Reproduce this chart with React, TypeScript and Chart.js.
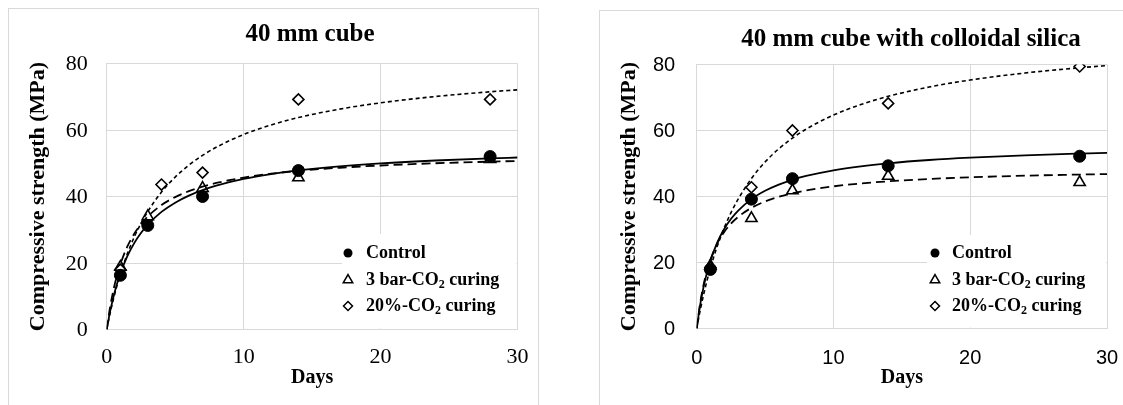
import React, { useEffect, useRef } from 'react';
import { Chart, registerables } from 'chart.js';

Chart.register(...registerables);

// ---------- data ----------
const X_TICKS = [0, 10, 20, 30];
const Y_TICKS = [0, 20, 40, 60, 80];
const LEGEND_LABELS = [
  { pre: 'Control', sub: '', post: '' },
  { pre: '3 bar-CO', sub: '2', post: ' curing' },
  { pre: '20%-CO', sub: '2', post: ' curing' },
];

// Panel A: 40 mm cube (measured points)
const A_CONTROL_DAYS = [1, 3, 7, 14, 28];
const A_CONTROL = [16.3, 31.3, 40.0, 47.8, 52.0];
const A_BAR_DAYS = [1, 3, 7, 14, 28];
const A_BAR = [18.8, 34.0, 42.5, 45.7, 51.2];
const A_PCT_DAYS = [1, 4, 7, 14, 28];
const A_PCT = [18.0, 43.6, 47.2, 69.2, 69.2];

// Panel B: 40 mm cube with colloidal silica (measured points)
const B_CONTROL_DAYS = [1, 4, 7, 14, 28];
const B_CONTROL = [17.9, 39.2, 45.4, 49.3, 52.2];
const B_BAR_DAYS = [1, 4, 7, 14, 28];
const B_BAR = [19.0, 33.4, 41.8, 46.2, 44.3];
const B_PCT_DAYS = [1, 4, 7, 14, 28];
const B_PCT = [18.5, 42.8, 60.0, 68.2, 79.4];

// Trend curves, values
const CURVE_DAYS = [0, 0.25, 0.5, 0.75, 1, 1.5, 2, 2.5, 3, 4, 5, 6, 7, 8, 10, 12, 14, 17, 20, 24, 28, 30];
const A_CONTROL_FIT = [0, 5.46, 9.95, 13.7, 16.88, 21.99, 25.91, 29.01, 31.53, 35.37, 38.15, 40.27, 41.92, 43.26, 45.28, 46.74, 47.84, 49.06, 49.96, 50.83, 51.47, 51.73];
const A_BAR_FIT = [0, 6.77, 12.02, 16.21, 19.63, 24.89, 28.74, 31.68, 34.0, 37.42, 39.82, 41.6, 42.98, 44.07, 45.69, 46.85, 47.7, 48.65, 49.33, 50.0, 50.48, 50.68];
const A_PCT_FIT = [0, 4.93, 9.29, 13.19, 16.68, 22.7, 27.69, 31.9, 35.49, 41.32, 45.83, 49.43, 52.37, 54.81, 58.65, 61.51, 63.74, 66.27, 68.17, 70.07, 71.49, 72.08];
const B_CONTROL_FIT = [0, 7.06, 12.54, 16.93, 20.52, 26.03, 30.07, 33.16, 35.6, 39.21, 41.74, 43.62, 45.07, 46.22, 47.94, 49.16, 50.06, 51.06, 51.78, 52.49, 53.0, 53.21];
const B_BAR_FIT = [0, 7.64, 13.22, 17.46, 20.81, 25.74, 29.19, 31.75, 33.72, 36.56, 38.5, 39.92, 40.99, 41.84, 43.08, 43.96, 44.6, 45.3, 45.81, 46.3, 46.65, 46.79];
const B_PCT_FIT = [0, 5.39, 10.17, 14.44, 18.28, 24.89, 30.39, 35.03, 39.0, 45.45, 50.45, 54.44, 57.7, 60.42, 64.68, 67.87, 70.35, 73.18, 75.3, 77.42, 79.01, 79.66];

const TITLE_A = '40 mm cube';
const TITLE_B = '40 mm cube with colloidal silica';
const Y_TITLE = 'Compressive strength (MPa)';
const X_TITLE = 'Days';

// ---------- helpers ----------
const SERIF = "'Liberation Serif', 'Times New Roman', serif";
const SANS = "'Liberation Sans', Arial, sans-serif";
const GRID = '#d9d9d9';

const pts = (xs: number[], ys: number[]) => xs.map((x, i) => ({ x, y: ys[i] }));

function drawMarker(ctx: CanvasRenderingContext2D, kind: number, x: number, y: number, r: number) {
  ctx.beginPath();
  if (kind === 0) {
    ctx.arc(x, y, r, 0, Math.PI * 2);
    ctx.fillStyle = '#000';
    ctx.fill();
    return;
  }
  if (kind === 1) {
    const h = r * 1.5;
    const w = r * 0.866;
    ctx.moveTo(x, y - r);
    ctx.lineTo(x + w, y - r + h);
    ctx.lineTo(x - w, y - r + h);
    ctx.closePath();
  } else {
    ctx.moveTo(x, y - r);
    ctx.lineTo(x + r, y);
    ctx.lineTo(x, y + r);
    ctx.lineTo(x - r, y);
    ctx.closePath();
  }
  ctx.fillStyle = '#fff';
  ctx.fill();
  ctx.strokeStyle = '#000';
  ctx.lineWidth = 1.5;
  ctx.stroke();
}

const decorPlugin = {
  id: 'decor',
  beforeDatasetsDraw(chart: any, _a: any, opts: any) {
    const { ctx, chartArea } = chart;
    const lg = opts.legend;
    ctx.save();
    ctx.fillStyle = '#fff';
    ctx.fillRect(lg.boxLeft, lg.boxTop, chartArea.right - lg.boxLeft - 1, chartArea.bottom - lg.boxTop - 1);
    ctx.restore();
  },
  afterDraw(chart: any, _a: any, opts: any) {
    const { ctx, chartArea, scales } = chart;
    ctx.save();
    ctx.fillStyle = '#000';
    // tick labels
    ctx.font = opts.tickFont;
    ctx.textBaseline = 'middle';
    ctx.textAlign = 'right';
    Y_TICKS.forEach((v) => {
      ctx.fillText(String(v), chartArea.left - opts.yTickPad, scales.y.getPixelForValue(v) + 1);
    });
    ctx.textAlign = 'center';
    X_TICKS.forEach((v) => {
      ctx.fillText(String(v), scales.x.getPixelForValue(v), chartArea.bottom + opts.xTickOffset);
    });
    // title
    ctx.font = `bold 25px ${SERIF}`;
    ctx.textAlign = 'center';
    ctx.textBaseline = 'middle';
    ctx.fillText(opts.title.text, opts.title.x, opts.title.y);
    // legend
    const lg = opts.legend;
    LEGEND_LABELS.forEach((item, i) => {
      const y = lg.rows[i];
      drawMarker(ctx, i, lg.markerX, y, i === 0 ? 4.5 : i === 1 ? 5.5 : 4.5);
      ctx.fillStyle = '#000';
      ctx.textAlign = 'left';
      ctx.textBaseline = 'middle';
      ctx.font = `bold 18px ${SERIF}`;
      let x = lg.textX;
      ctx.fillText(item.pre, x, y);
      x += ctx.measureText(item.pre).width;
      if (item.sub) {
        ctx.font = `bold 12px ${SERIF}`;
        ctx.fillText(item.sub, x, y + 5);
        x += ctx.measureText(item.sub).width;
        ctx.font = `bold 18px ${SERIF}`;
      }
      if (item.post) ctx.fillText(item.post, x, y);
    });
    ctx.restore();
  },
};

type PanelCfg = {
  title: { text: string; x: number; y: number };
  legend: { boxLeft: number; boxTop: number; markerX: number; textX: number; rows: number[] };
  area: { left: number; right: number; top: number; bottom: number };
  tickFont: string;
  yTickPad: number;
  xTickOffset: number;
  yTitlePad: number;
  control: { days: number[]; vals: number[] };
  bar: { days: number[]; vals: number[] };
  pct: { days: number[]; vals: number[] };
  fits: number[][];
};

const W = 560;
const H = 405;

function buildChart(canvas: HTMLCanvasElement, cfg: PanelCfg) {
  const { area } = cfg;
  return new Chart(canvas, {
    type: 'scatter',
    data: {
      datasets: [
        {
          label: 'Control',
          data: pts(cfg.control.days, cfg.control.vals),
          pointStyle: 'circle',
          pointRadius: 6,
          backgroundColor: '#000',
          borderColor: '#000',
          borderWidth: 1,
          showLine: false,
        },
        {
          label: '3 bar-CO2 curing',
          data: pts(cfg.bar.days, cfg.bar.vals),
          pointStyle: 'triangle',
          pointRadius: 6.5,
          backgroundColor: 'rgba(255,255,255,0)',
          borderColor: '#000',
          borderWidth: 1.6,
          showLine: false,
        },
        {
          label: '20%-CO2 curing',
          data: pts(cfg.pct.days, cfg.pct.vals),
          pointStyle: 'rectRot',
          pointRadius: 5.5,
          backgroundColor: '#fff',
          borderColor: '#000',
          borderWidth: 1.6,
          showLine: false,
        },
        {
          label: 'Control fit',
          data: pts(CURVE_DAYS, cfg.fits[0]),
          showLine: true,
          pointRadius: 0,
          borderColor: '#000',
          borderWidth: 1.8,
          cubicInterpolationMode: 'monotone',
        },
        {
          label: '3 bar fit',
          data: pts(CURVE_DAYS, cfg.fits[1]),
          showLine: true,
          pointRadius: 0,
          borderColor: '#000',
          borderWidth: 1.8,
          borderDash: [9, 5],
          cubicInterpolationMode: 'monotone',
        },
        {
          label: '20% fit',
          data: pts(CURVE_DAYS, cfg.fits[2]),
          showLine: true,
          pointRadius: 0,
          borderColor: '#000',
          borderWidth: 1.6,
          borderDash: [4, 3],
          cubicInterpolationMode: 'monotone',
        },
      ] as any,
    },
    options: {
      responsive: false,
      animation: false,
      events: [],
      layout: { padding: { left: 0, top: area.top, right: W - area.right, bottom: 0 } },
      plugins: {
        legend: { display: false },
        tooltip: { enabled: false },
        title: { display: false },
        decor: {
          title: cfg.title,
          legend: cfg.legend,
          tickFont: cfg.tickFont,
          yTickPad: cfg.yTickPad,
          xTickOffset: cfg.xTickOffset,
        },
      } as any,
      scales: {
        x: {
          type: 'linear',
          min: 0,
          max: 30,
          afterBuildTicks: (s: any) => { s.ticks = X_TICKS.map((v) => ({ value: v })); },
          afterFit: (s: any) => { s.height = H - area.bottom; },
          grid: { color: GRID, lineWidth: 1, drawTicks: false },
          border: { display: true, color: GRID, width: 1 },
          ticks: { display: false },
          title: {
            display: true,
            text: X_TITLE,
            color: '#000',
            font: { family: SERIF, size: 20, weight: 'bold' },
            padding: { top: 0, bottom: 15 },
          },
        },
        y: {
          type: 'linear',
          min: 0,
          max: 80,
          afterBuildTicks: (s: any) => { s.ticks = Y_TICKS.map((v) => ({ value: v })); },
          afterFit: (s: any) => { s.width = area.left; },
          grid: { color: GRID, lineWidth: 1, drawTicks: false },
          border: { display: true, color: GRID, width: 1 },
          ticks: { display: false },
          title: {
            display: true,
            text: Y_TITLE,
            color: '#000',
            font: { family: SERIF, size: 22, weight: 'bold' },
            padding: { top: cfg.yTitlePad, bottom: 0 },
          },
        },
      } as any,
    } as any,
    plugins: [decorPlugin as any],
  });
}

const PANEL_A: PanelCfg = {
  title: { text: TITLE_A, x: 310, y: 35 },
  legend: { boxLeft: 342, boxTop: 234, markerX: 348, textX: 366, rows: [253, 280, 306] },
  area: { left: 106.7, right: 517.5, top: 63.5, bottom: 329.5 },
  tickFont: `22px ${SERIF}`,
  yTickPad: 19,
  xTickOffset: 28,
  yTitlePad: 25,
  control: { days: A_CONTROL_DAYS, vals: A_CONTROL },
  bar: { days: A_BAR_DAYS, vals: A_BAR },
  pct: { days: A_PCT_DAYS, vals: A_PCT },
  fits: [A_CONTROL_FIT, A_BAR_FIT, A_PCT_FIT],
};

const PANEL_B: PanelCfg = {
  title: { text: TITLE_B, x: 348, y: 40 },
  legend: { boxLeft: 364, boxTop: 235, markerX: 372, textX: 389, rows: [253, 280, 306] },
  area: { left: 133.7, right: 544, top: 64.5, bottom: 328.5 },
  tickFont: `20px ${SANS}`,
  yTickPad: 21.5,
  xTickOffset: 30,
  yTitlePad: 53,
  control: { days: B_CONTROL_DAYS, vals: B_CONTROL },
  bar: { days: B_BAR_DAYS, vals: B_BAR },
  pct: { days: B_PCT_DAYS, vals: B_PCT },
  fits: [B_CONTROL_FIT, B_BAR_FIT, B_PCT_FIT],
};

function Panel({ cfg, left }: { cfg: PanelCfg; left: number }) {
  const ref = useRef<HTMLCanvasElement | null>(null);
  useEffect(() => {
    if (!ref.current) return;
    const chart = buildChart(ref.current, cfg);
    return () => chart.destroy();
  }, [cfg]);
  return (
    <canvas
      ref={ref}
      width={W}
      height={H}
      style={{ position: 'absolute', left, top: 0, width: W, height: H }}
    />
  );
}

export default function App() {
  return (
    <div
      style={{
        position: 'absolute',
        left: 0,
        top: 0,
        width: 1123,
        height: 405,
        overflow: 'hidden',
        background: '#fff',
      }}
    >
      <div
        style={{
          position: 'absolute',
          left: 8,
          top: 8,
          width: 531,
          height: 500,
          border: '1px solid #d9d9d9',
          boxSizing: 'border-box',
        }}
      />
      <div
        style={{
          position: 'absolute',
          left: 599,
          top: 10,
          width: 600,
          height: 500,
          border: '1px solid #d9d9d9',
          boxSizing: 'border-box',
        }}
      />
      <Panel cfg={PANEL_A} left={0} />
      <Panel cfg={PANEL_B} left={563} />
    </div>
  );
}
